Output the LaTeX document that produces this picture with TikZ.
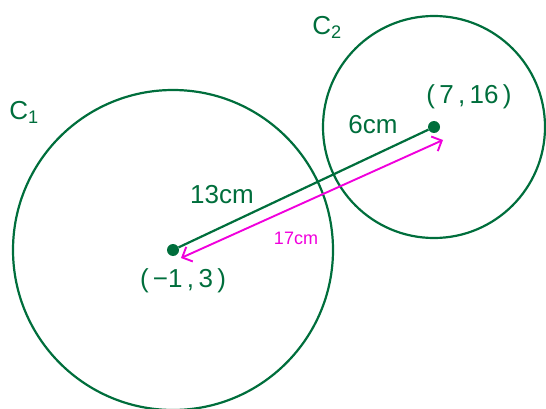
\documentclass[tikz,border=0pt]{standalone}
\usepackage{fontspec}
\setmainfont{Liberation Sans}
\usetikzlibrary{arrows.meta}
\definecolor{pen}{RGB}{0,110,60}
\definecolor{mag}{RGB}{240,0,220}
\tikzset{
  circ/.style={draw=pen, line width=2.2pt},
  seg/.style={draw=pen, line width=2.2pt},
  lab/.style={text=pen, font=\fontsize{26}{28}\selectfont, inner sep=0pt},
  mlab/.style={text=mag, font=\fontsize{18}{20}\selectfont, inner sep=0pt},
  dot/.style={circle, fill=pen, minimum size=12pt, inner sep=0pt},
  dist/.style={draw=mag, line width=1.9pt, {Straight Barb[length=8pt,width=16pt]}-{Straight Barb[length=8pt,width=16pt]}}
}
\begin{document}
\begin{tikzpicture}[x=1pt, y=-1pt]
\useasboundingbox (0,0) rectangle (546,409);
\node[dot] (o1) at (173,250) {};
\node[dot] (o2) at (434,127) {};
\draw[circ] (o1.center) circle[radius=160];
\draw[circ] (o2.center) circle[radius=111];
\draw[seg] (o1) -- (o2);
\coordinate (a1) at (181,258);
\coordinate (a2) at (443,140);
\draw[dist] (a1) -- (a2);
\node[lab] (c1) at (24,112) {C\textsubscript{1}};
\node[lab] (c2) at (327,27) {C\textsubscript{2}};
\node[lab] (p1) at (183,281) {(\,−1\,,\,3\,)};
\node[lab] (p2) at (469,97) {(\,7\,,\,16\,)};
\node[lab] (r1) at (222,195) {13cm};
\node[lab] (r2) at (373,125) {6cm};
\node[mlab] (d) at (296,238) {17cm};
\end{tikzpicture}
\end{document}
